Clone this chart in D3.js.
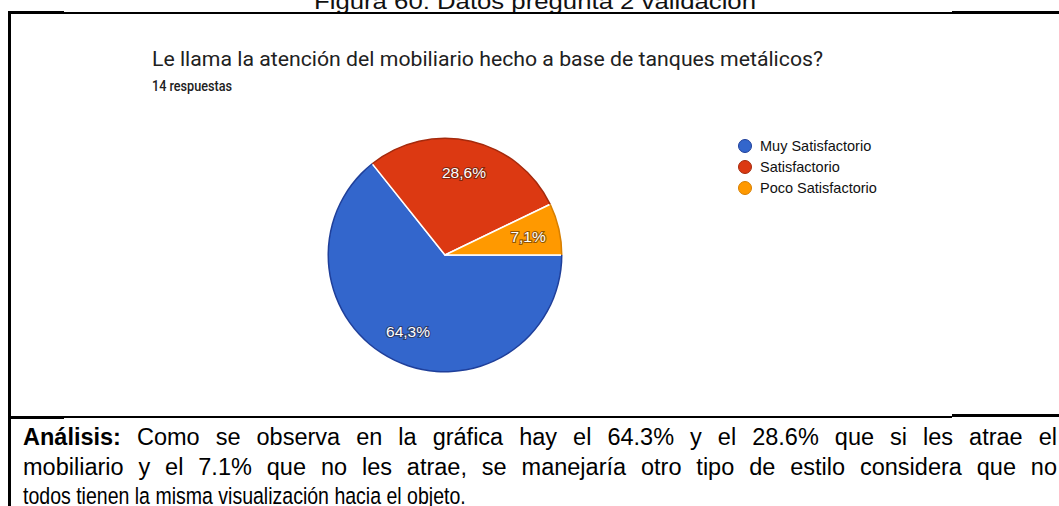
<!DOCTYPE html>
<html lang="es">
<head>
<meta charset="utf-8">
<script src="https://cdn.jsdelivr.net/npm/d3@7"></script>
<style>
  html, body { margin: 0; padding: 0; background: #fff; }
  svg { display: block; }
</style>
</head>
<body>
<svg id="chart" width="1059" height="506"></svg>
<script>
// Survey answers for question 2 (14 responses)
const categories = ["Muy Satisfactorio", "Satisfactorio", "Poco Satisfactorio"];
const counts = [9, 4, 1];
const sliceLabels = ["64,3%", "28,6%", "7,1%"];
const colors = ["#3366cc", "#dc3912", "#ff9900"];
const edgeColors = ["#1f3f9a", "#a42a0d", "#d77f00"];

const captionText = "Figura 60: Datos pregunta 2 validación";
const titleText = "Le llama la atención del mobiliario hecho a base de tanques metálicos?";
const subtitleText = "14 respuestas";
const analysisLines = [
  { bold: "Análisis:", text: " Como se observa en la gráfica hay el 64.3% y el 28.6% que si les atrae el" },
  { bold: "", text: "mobiliario y el 7.1% que no les atrae, se manejaría otro tipo de estilo considera que no" },
  { bold: "", text: "todos tienen la misma visualización hacia el objeto." }
];

const svg = d3.select("#chart");

// Figure caption, partly above the page edge
svg.append("text")
  .attr("x", 314).attr("y", 9)
  .attr("font-family", "Liberation Sans, Arial, sans-serif")
  .attr("font-size", 22)
  .attr("fill", "#111")
  .attr("textLength", 442).attr("lengthAdjust", "spacingAndGlyphs")
  .text(captionText);

// Table frame lines
const frame = svg.append("g").attr("fill", "#000");
frame.append("rect").attr("x", 8).attr("y", 11).attr("width", 56).attr("height", 3);
frame.append("rect").attr("x", 64).attr("y", 12).attr("width", 888).attr("height", 2);
frame.append("rect").attr("x", 952).attr("y", 11).attr("width", 107).attr("height", 3);
frame.append("rect").attr("x", 8).attr("y", 11).attr("width", 3).attr("height", 495);
frame.append("rect").attr("x", 8).attr("y", 416).attr("width", 56).attr("height", 3);
frame.append("rect").attr("x", 64).attr("y", 416).attr("width", 888).attr("height", 2);
frame.append("rect").attr("x", 952).attr("y", 414).attr("width", 107).attr("height", 3);

// Chart title block
svg.append("text")
  .attr("x", 152).attr("y", 66)
  .attr("font-family", "Roboto, Arial, sans-serif")
  .attr("font-size", 19.5)
  .attr("fill", "#212121")
  .attr("textLength", 671).attr("lengthAdjust", "spacingAndGlyphs")
  .text(titleText);

svg.append("text")
  .attr("x", 152).attr("y", 91)
  .attr("font-family", "Roboto, Arial, sans-serif")
  .attr("font-size", 14)
  .attr("font-weight", 500)
  .attr("fill", "#212121")
  .attr("textLength", 80).attr("lengthAdjust", "spacingAndGlyphs")
  .text(subtitleText);

// Pie
const cx = 445, cy = 255, radius = 117.5;
const pie = d3.pie().sort(null).value(d => d)
  .startAngle(Math.PI / 2).endAngle(Math.PI / 2 + 2 * Math.PI);
const arcs = pie(counts);

const arc = d3.arc().innerRadius(0).outerRadius(radius);
const rim = d3.arc().innerRadius(radius - 1.5).outerRadius(radius);
const labelArc = d3.arc().innerRadius(radius * 0.725).outerRadius(radius * 0.725);

const g = svg.append("g").attr("transform", `translate(${cx},${cy})`);

g.selectAll("path.slice")
  .data(arcs)
  .join("path")
  .attr("class", "slice")
  .attr("d", arc)
  .attr("fill", (d, i) => colors[i])
  .attr("stroke", "#fff")
  .attr("stroke-width", 1.5)
  .attr("stroke-linejoin", "round");

g.selectAll("path.rim")
  .data(arcs)
  .join("path")
  .attr("class", "rim")
  .attr("d", rim)
  .attr("fill", (d, i) => edgeColors[i]);

g.selectAll("text.pct")
  .data(arcs)
  .join("text")
  .attr("class", "pct")
  .attr("transform", d => `translate(${labelArc.centroid(d)})`)
  .attr("text-anchor", "middle")
  .attr("dy", "0.36em")
  .attr("font-family", "Liberation Sans, Arial, sans-serif")
  .attr("font-size", 15.5)
  .attr("font-weight", 500)
  .attr("fill", "#fff")
  .attr("stroke", "rgba(40,20,10,0.5)")
  .attr("stroke-width", 2.2)
  .attr("paint-order", "stroke")
  .text((d, i) => sliceLabels[i]);

// Legend
const legend = svg.append("g").attr("transform", "translate(745,146)");
const items = legend.selectAll("g")
  .data(categories)
  .join("g")
  .attr("transform", (d, i) => `translate(0,${i * 21})`);
items.append("circle")
  .attr("r", 6.5)
  .attr("fill", (d, i) => colors[i])
  .attr("stroke", (d, i) => edgeColors[i])
  .attr("stroke-width", 1);
items.append("text")
  .attr("x", 15).attr("dy", "0.36em")
  .attr("font-family", "Liberation Sans, Arial, sans-serif")
  .attr("font-size", 14.5)
  .attr("fill", "#111")
  .text(d => d);

// Analysis paragraph: first two lines justified, last line condensed
const paraX = 23, paraY = 445, lineGap = 29.5;
const fullWidth = 1034, lastWidth = 443;
const bodyScale = 1.0;
const para = svg.append("g")
  .attr("font-family", "Liberation Sans, Arial, sans-serif")
  .attr("font-size", 23.5)
  .attr("fill", "#000");
analysisLines.forEach((ln, i) => {
  const t = para.append("text").attr("x", 0).attr("y", 0);
  if (ln.bold) t.append("tspan").attr("font-weight", "bold").text(ln.bold);
  t.append("tspan").text(ln.text);
  const natural = t.node().getComputedTextLength();
  const justified = i < analysisLines.length - 1;
  const sx = justified ? bodyScale : lastWidth / natural;
  t.attr("transform", `translate(${paraX},${paraY + i * lineGap}) scale(${sx},1)`);
  if (justified) {
    const full = ln.bold + ln.text;
    const spaces = (full.match(/ /g) || []).length;
    const extra = (fullWidth / sx - natural) / spaces;
    if (extra >= 0) t.attr("word-spacing", extra);
    else t.attr("textLength", fullWidth / sx).attr("lengthAdjust", "spacingAndGlyphs");
  }
});
</script>
</body>
</html>
